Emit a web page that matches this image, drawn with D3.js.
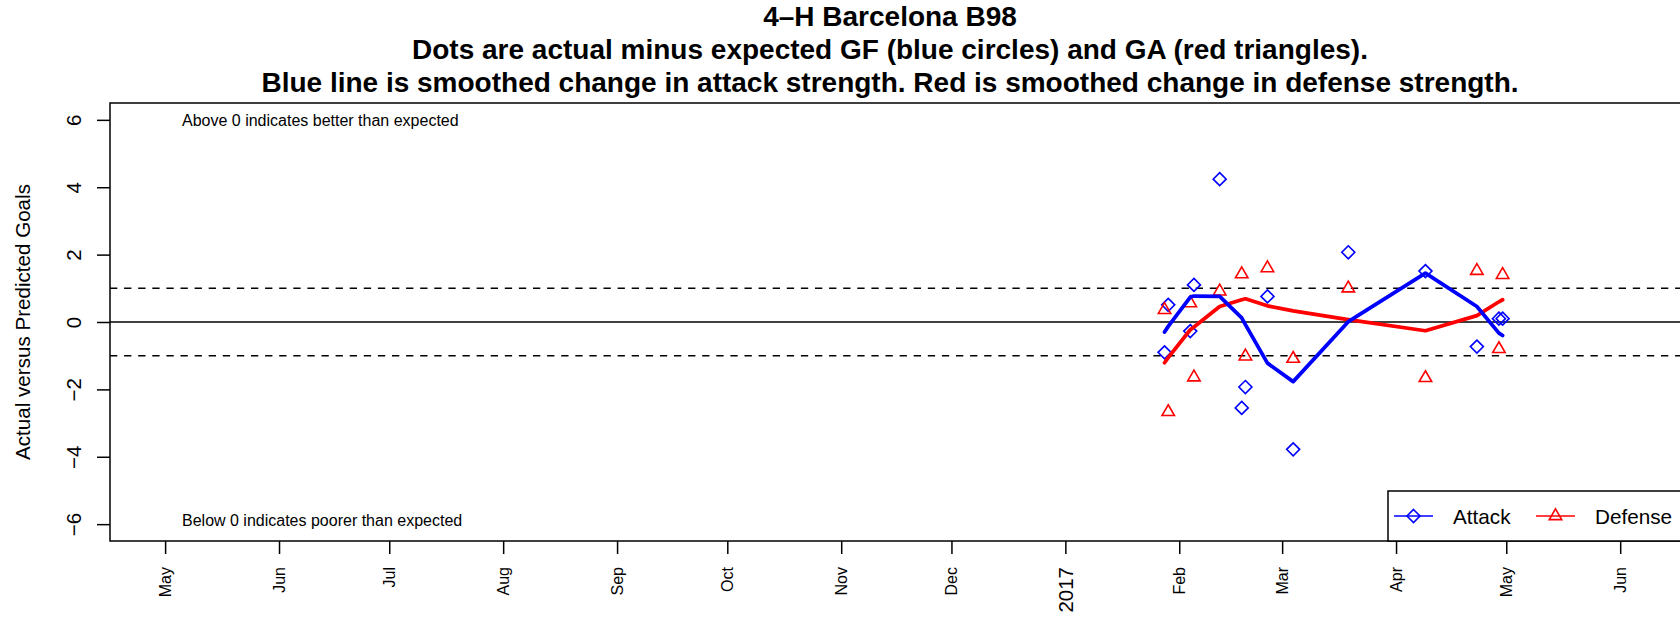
<!DOCTYPE html>
<html>
<head>
<meta charset="utf-8">
<script src="https://cdn.jsdelivr.net/npm/d3@7"></script>
<style>
  body { margin: 0; background: #fff; }
  svg text { font-family: "Liberation Sans", Arial, Helvetica, sans-serif; fill: #000; }
</style>
</head>
<body>
<svg id="chart" width="1680" height="618"></svg>
<script>
// games of the 2017 spring season, actual minus expected goals
const matchDates = ["2017-01-28", "2017-01-29", "2017-02-04", "2017-02-05", "2017-02-12", "2017-02-18", "2017-02-19",
	"2017-02-25", "2017-03-04", "2017-03-19", "2017-04-09", "2017-04-23", "2017-04-29", "2017-04-30"]
const gfDiff = [-0.90, 0.51, -0.27, 1.10, 4.24, -2.55, -1.93, 0.76, -3.78, 2.07, 1.51, -0.73, 0.10, 0.10]
const gaDiff = [0.36, -2.67, 0.56, -1.64, 0.91, 1.42, -1.02, 1.60, -1.09, 1.00, -1.66, 1.52, -0.80, 1.40]
// smoothed change in strength
const attackSmooth = [-0.30, -0.13, 0.74, 0.77, 0.76, 0.12, -0.08, -1.22, -1.77, 0.01, 1.45, 0.46, -0.33, -0.40]
const defenseSmooth = [-1.21, -1.06, -0.23, -0.15, 0.46, 0.66, 0.69, 0.48, 0.33, 0.07, -0.26, 0.19, 0.60, 0.66]

const monthTicks = ["2016-05-01", "2016-06-01", "2016-07-01", "2016-08-01", "2016-09-01", "2016-10-01", "2016-11-01",
	"2016-12-01", "2017-01-01", "2017-02-01", "2017-03-01", "2017-04-01", "2017-05-01", "2017-06-01"]
const yTicks = [-6, -4, -2, 0, 2, 4, 6]
const bandLines = [-1, 1]
const xDomain = ["2016-04-16", "2017-06-20"]
const yDomain = [-6.5, 6.5]

const titleLines = [
	"4\u2013H Barcelona B98",
	"Dots are actual minus expected GF (blue circles) and GA (red triangles).",
	"Blue line is smoothed change in attack strength. Red is smoothed change in defense strength."
]
const legendNames = ["Attack", "Defense"]
const legendColors = ["#0000ff", "#ff0000"]

const parseDate = d3.utcParse("%Y-%m-%d")

const plotLeft = 110, plotRight = 1690, plotTop = 103, plotBottom = 541

const x = d3.scaleUtc()
	.domain(xDomain.map(parseDate))
	.range([plotLeft, plotRight])

const y = d3.scaleLinear()
	.domain(yDomain)
	.range([plotBottom, plotTop])

const svg = d3.select("#chart")

const games = matchDates.map((d, i) => ({
	date: parseDate(d),
	gf: gfDiff[i],
	ga: gaDiff[i],
	att: attackSmooth[i],
	def: defenseSmooth[i]
}))

// title
svg.append("g")
	.selectAll("text")
	.data(titleLines)
	.join("text")
	.attr("x", 890)
	.attr("y", (d, i) => 26 + i * 33)
	.attr("text-anchor", "middle")
	.style("font-weight", "bold")
	.style("font-size", "28px")
	.text(d => d)

// reference lines
svg.append("line")
	.attr("x1", plotLeft).attr("x2", plotRight)
	.attr("y1", y(0)).attr("y2", y(0))
	.attr("stroke", "#000")
	.attr("stroke-width", 1.5)

svg.append("g")
	.selectAll("line")
	.data(bandLines)
	.join("line")
	.attr("x1", plotLeft).attr("x2", plotRight)
	.attr("y1", d => y(d)).attr("y2", d => y(d))
	.attr("stroke", "#000")
	.attr("stroke-width", 1.5)
	.attr("stroke-dasharray", "7.3,6.8")

// annotations
svg.append("text")
	.attr("x", 182).attr("y", y(6) + 6.5)
	.style("font-size", "16px")
	.text("Above 0 indicates better than expected")
svg.append("text")
	.attr("x", 182).attr("y", y(-6) + 1.7)
	.style("font-size", "16px")
	.text("Below 0 indicates poorer than expected")

const diamond = "M0,-6.5L6.5,0L0,6.5L-6.5,0Z"
const triangle = "M0,-7.2L6.24,3.6L-6.24,3.6Z"

// dots
svg.append("g")
	.selectAll("path")
	.data(games)
	.join("path")
	.attr("d", diamond)
	.attr("transform", d => `translate(${x(d.date)},${y(d.gf)})`)
	.attr("fill", "none")
	.attr("stroke", legendColors[0])
	.attr("stroke-width", 1.6)

svg.append("g")
	.selectAll("path")
	.data(games)
	.join("path")
	.attr("d", triangle)
	.attr("transform", d => `translate(${x(d.date)},${y(d.ga)})`)
	.attr("fill", "none")
	.attr("stroke", legendColors[1])
	.attr("stroke-width", 1.6)

// smoothed lines
const defLine = d3.line().x(d => x(d.date)).y(d => y(d.def))
const attLine = d3.line().x(d => x(d.date)).y(d => y(d.att))

svg.append("path")
	.datum(games)
	.attr("d", defLine)
	.attr("fill", "none")
	.attr("stroke", legendColors[1])
	.attr("stroke-width", 3.75)
	.attr("stroke-linejoin", "round")
	.attr("stroke-linecap", "round")

svg.append("path")
	.datum(games)
	.attr("d", attLine)
	.attr("fill", "none")
	.attr("stroke", legendColors[0])
	.attr("stroke-width", 3.75)
	.attr("stroke-linejoin", "round")
	.attr("stroke-linecap", "round")

// y axis
const yAxis = svg.append("g")
	.attr("transform", `translate(${plotLeft},0)`)
	.call(d3.axisLeft(y).tickValues(yTicks).tickSize(13).tickFormat(d => String(d).replace("-", "\u2212")))
yAxis.select(".domain").remove()
yAxis.attr("font-family", null).attr("font-size", null)
yAxis.selectAll(".tick line").attr("stroke", "#000").attr("stroke-width", 1.5)
yAxis.selectAll(".tick text")
	.attr("x", 0).attr("dy", null)
	.attr("transform", "translate(-37,0) rotate(-90)")
	.attr("text-anchor", "middle")
	.attr("dominant-baseline", "central")
	.style("font-size", "20.5px")

svg.append("text")
	.attr("transform", `translate(22,${(plotTop + plotBottom) / 2}) rotate(-90)`)
	.attr("text-anchor", "middle")
	.attr("dominant-baseline", "central")
	.style("font-size", "20.6px")
	.text("Actual versus Predicted Goals")

// x axis
const xAxis = svg.append("g")
	.attr("transform", `translate(0,${plotBottom})`)
	.call(d3.axisBottom(x).tickValues(monthTicks.map(parseDate)).tickSize(13)
		.tickFormat(d => d.getUTCMonth() === 0 ? d3.utcFormat("%Y")(d) : d3.utcFormat("%b")(d)))
xAxis.select(".domain").remove()
xAxis.attr("font-family", null).attr("font-size", null)
xAxis.selectAll(".tick line").attr("stroke", "#000").attr("stroke-width", 1.5)
xAxis.selectAll(".tick text")
	.attr("y", 0).attr("dy", null)
	.attr("transform", "translate(0,26) rotate(-90)")
	.attr("text-anchor", "end")
	.attr("dominant-baseline", "central")
	.style("font-size", d => d.getUTCMonth() === 0 ? "20.5px" : "16px")

// plot box
svg.append("rect")
	.attr("x", plotLeft).attr("y", plotTop)
	.attr("width", plotRight - plotLeft).attr("height", plotBottom - plotTop)
	.attr("fill", "none")
	.attr("stroke", "#000")
	.attr("stroke-width", 1.5)

// legend
const legend = svg.append("g")
legend.append("rect")
	.attr("x", 1388).attr("y", 491)
	.attr("width", plotRight - 1388).attr("height", plotBottom - 491)
	.attr("fill", "#fff")
	.attr("stroke", "#000")
	.attr("stroke-width", 1.5)

const items = legend.selectAll("g.item")
	.data(legendNames)
	.join("g")
	.attr("class", "item")
	.attr("transform", (d, i) => `translate(${1394 + i * 142},516)`)

items.append("line")
	.attr("x1", 0).attr("x2", 39)
	.attr("stroke", (d, i) => legendColors[i])
	.attr("stroke-width", 1.5)
items.append("path")
	.attr("d", (d, i) => i === 0 ? diamond : triangle)
	.attr("transform", "translate(19.5,0)")
	.attr("fill", "none")
	.attr("stroke", (d, i) => legendColors[i])
	.attr("stroke-width", 1.6)
items.append("text")
	.attr("x", 59)
	.attr("dominant-baseline", "central")
	.style("font-size", "20.7px")
	.text(d => d)
</script>
</body>
</html>
